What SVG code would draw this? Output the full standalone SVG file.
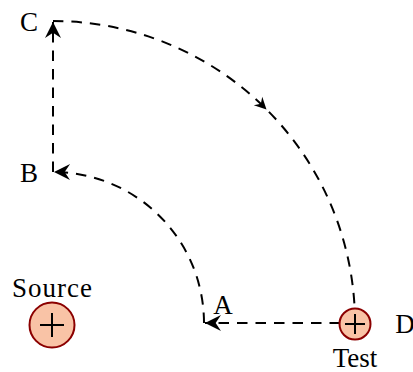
<svg xmlns="http://www.w3.org/2000/svg" width="413" height="372" viewBox="0 0 413 372">
<style>
.lbl{font-family:"Liberation Serif","DejaVu Serif",serif;font-size:27px;fill:#000}
.dash{fill:none;stroke:#000;stroke-width:2;stroke-dasharray:10.5 8}
.node{fill:#f9c3a6;stroke:#8b0000;stroke-width:2}
.plus{stroke:#000;stroke-width:2;fill:none}
</style>
<defs>
<marker id="ah" markerUnits="userSpaceOnUse" markerWidth="20" markerHeight="20" viewBox="-13 -7 15 14" refX="0" refY="0" orient="auto" overflow="visible">
<path d="M0,0 L-12,-6 L-8,0 L-12,6 Z" fill="#000" stroke="none"/>
</marker>
</defs>
<g id="connectors">
<path class="dash" d="M340,323 L205,323" marker-end="url(#ah)"/>
<path class="dash" d="M204,323 A151,151 0 0 0 54,172" marker-end="url(#ah)"/>
<path class="dash" d="M53,172 L53,22" marker-end="url(#ah)"/>
<path class="dash" d="M53,21 A302,302 0 0 1 355,323"/>
<path d="M0,0 L-12,-6 L-8,0 L-12,6 Z" fill="#000" transform="translate(266.5,109.5) rotate(45)"/>
</g>
<g id="A"><text class="lbl" x="223" y="314" text-anchor="middle">A</text></g>
<g id="B"><text class="lbl" x="29" y="182" text-anchor="middle">B</text></g>
<g id="C"><text class="lbl" x="29" y="31" text-anchor="middle">C</text></g>
<g id="D"><text class="lbl" x="405" y="333" text-anchor="middle">D</text></g>
<g id="Test">
<circle class="node" cx="355" cy="324" r="15.5"/>
<path class="plus" d="M345,324 H365 M355,314 V334"/>
<text class="lbl" x="355" y="367" text-anchor="middle">Test</text>
</g>
<g id="Source">
<circle class="node" cx="52" cy="325" r="22.5"/>
<path class="plus" d="M40,325 H64 M52,313 V337"/>
<text class="lbl" x="12" y="297" textLength="80">Source</text>
</g>
</svg>
